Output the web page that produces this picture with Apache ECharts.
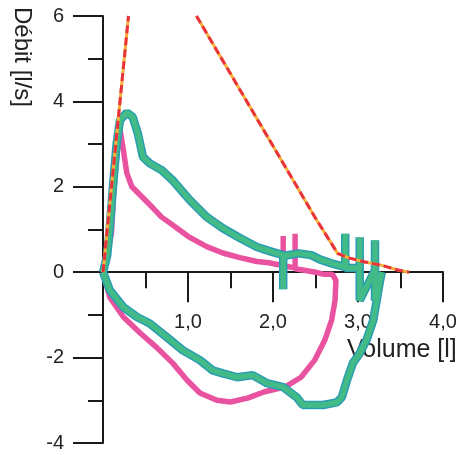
<!DOCTYPE html>
<html>
<head>
<meta charset="utf-8">
<script src="https://cdn.jsdelivr.net/npm/echarts@6/dist/echarts.min.js"></script>
<style>
  html, body { margin: 0; padding: 0; background: #fff; }
  #chart { width: 463px; height: 455px; }
</style>
</head>
<body>
<div id="chart"></div>
<script>
// courbe débit-volume, valeurs
const pinkVol = [0, 0.05, 0.1, 0.12, 0.15, 0.18, 0.2, 0.24, 0.28, 0.34, 0.46, 0.58, 0.69, 0.81, 1.0, 1.22, 1.41, 1.61, 1.81, 1.95, 2.05, 2.12, 2.12, 2.12, 2.2, 2.26, 2.26, 2.26, 2.35, 2.5, 2.6, 2.7, 2.74, 2.73, 2.69, 2.61, 2.49, 2.33, 2.14, 1.9, 1.7, 1.5, 1.34, 1.14, 0.99, 0.82, 0.63, 0.44, 0.24, 0.08, 0]
const pinkFlow = [0, 0.4, 0.92, 1.69, 2.46, 3.1, 3.35, 2.86, 2.32, 2.0, 1.76, 1.52, 1.29, 1.12, 0.84, 0.6, 0.45, 0.34, 0.25, 0.22, 0.18, 0.18, 0.85, 0.15, 0.12, 0.1, 0.9, 0.08, 0.05, 0, -0.05, -0.05, -0.19, -0.66, -1.12, -1.59, -2.06, -2.46, -2.69, -2.8, -2.95, -3.04, -3.0, -2.83, -2.53, -2.13, -1.76, -1.43, -1.05, -0.59, 0]

const greenVol = [0, 0.05, 0.08, 0.12, 0.16, 0.2, 0.28, 0.35, 0.41, 0.47, 0.55, 0.69, 0.82, 1.02, 1.22, 1.41, 1.61, 1.81, 1.95, 2.12, 2.12, 2.12, 2.3, 2.45, 2.55, 2.7, 2.85, 2.85, 2.85, 3.02, 3.02, 3.02, 3.2, 3.2, 3.2, 3.28, 3.26, 3.22, 3.18, 3.1, 3.02, 2.94, 2.87, 2.81, 2.75, 2.59, 2.35, 2.28, 2.12, 1.93, 1.76, 1.58, 1.41, 1.29, 1.14, 0.94, 0.75, 0.55, 0.4, 0.24, 0.08, 0.02, 0]
const greenFlow = [0, 0.4, 1.05, 2.08, 3.0, 3.56, 3.74, 3.63, 3.25, 2.7, 2.55, 2.39, 2.15, 1.69, 1.29, 1.03, 0.8, 0.59, 0.5, 0.4, -0.4, 0.38, 0.44, 0.4, 0.3, 0.2, 0.12, 0.9, 0.1, 0.1, 0.82, -0.66, 0.05, 0.75, -0.66, 0, -0.19, -0.66, -1.12, -1.59, -1.9, -2.13, -2.53, -2.93, -3.05, -3.11, -3.11, -2.93, -2.69, -2.6, -2.41, -2.46, -2.37, -2.3, -2.06, -1.83, -1.52, -1.2, -1.05, -0.82, -0.42, -0.1, 0]

// courbe théorique (deux segments)
const predVolA = [0, 0.3]
const predFlowA = [0, 6]
const predVolB = [1.1, 2.49, 2.76, 2.9, 3.08, 3.28, 3.47, 3.6]
const predFlowB = [6, 1.3, 0.44, 0.33, 0.24, 0.16, 0.05, 0]

const xTicks = [1, 2, 3, 4]
const yTicks = [-4, -2, 0, 2, 4, 6]

const zip = (a, b) => a.map((v, i) => [v, b[i]])

const myChart = echarts.init(document.getElementById('chart'))

const font = 'Liberation Sans, Arial, sans-serif'
const axisColor = '#1a1a1a'

// grille : haut 16, bas 443 -> zéro à 16 + 6/10 * 427
const gridTop = 16
const gridBottom = 12
const plotH = 455 - gridTop - gridBottom
const zeroOffset = -(plotH * 4 / 10)

const option = {
  backgroundColor: '#fff',
  animation: false,
  grid: { left: 103, right: 20, top: gridTop, bottom: gridBottom, containLabel: false, outerBoundsMode: 'none' },
  xAxis: {
    type: 'value',
    min: 0,
    max: 4,
    interval: 1,
    position: 'bottom',
    offset: zeroOffset,
    axisLine: { onZero: false, lineStyle: { color: axisColor, width: 2 } },
    axisTick: { show: true, length: 30, lineStyle: { color: axisColor, width: 2 } },
    minorTick: { show: true, splitNumber: 2, length: 16, lineStyle: { color: axisColor, width: 2 } },
    splitLine: { show: false },
    axisLabel: {
      margin: 40,
      fontSize: 20,
      fontFamily: font,
      color: '#222',
      formatter: v => xTicks.includes(v) ? v.toFixed(1).replace('.', ',') : '',
    },
  },
  yAxis: {
    type: 'value',
    min: -4,
    max: 6,
    interval: 2,
    axisLine: { lineStyle: { color: axisColor, width: 2 } },
    axisTick: { show: true, length: 30, lineStyle: { color: axisColor, width: 2 } },
    minorTick: { show: true, splitNumber: 2, length: 15, lineStyle: { color: axisColor, width: 2 } },
    splitLine: { show: false },
    axisLabel: {
      margin: 39,
      fontSize: 20,
      fontFamily: font,
      color: '#222',
      formatter: v => yTicks.includes(v) ? String(v) : '',
    },
  },
  graphic: [
    {
      type: 'text',
      x: 22,
      y: 7,
      rotation: -Math.PI / 2,
      style: { text: 'Débit [l/s]', fontSize: 24, fontFamily: font, fill: '#222', textAlign: 'left', textVerticalAlign: 'middle' },
    },
    {
      type: 'text',
      left: 347,
      top: 338,
      style: { text: 'Volume [l]', fontSize: 25, fontFamily: font, fill: '#222' },
    },
  ],
  series: [
    {
      name: 'rose',
      type: 'line',
      data: zip(pinkVol, pinkFlow),
      symbol: 'none',
      lineStyle: { color: '#e8529f', width: 5.5 },
      z: 2,
    },
    {
      name: 'vert-bord',
      type: 'line',
      data: zip(greenVol, greenFlow),
      symbol: 'none',
      lineStyle: { color: '#2a9db2', width: 8.5 },
      z: 3,
    },
    {
      name: 'vert',
      type: 'line',
      data: zip(greenVol, greenFlow),
      symbol: 'none',
      lineStyle: { color: '#43bb87', width: 5.5 },
      z: 4,
    },
    {
      name: 'theo-a-fond',
      type: 'line',
      data: zip(predVolA, predFlowA),
      symbol: 'none',
      lineStyle: { color: '#f5b13a', width: 3 },
      z: 5,
    },
    {
      name: 'theo-a',
      type: 'line',
      data: zip(predVolA, predFlowA),
      symbol: 'none',
      lineStyle: { color: '#e8323e', width: 3, type: [8, 4] },
      z: 6,
    },
    {
      name: 'theo-b-fond',
      type: 'line',
      data: zip(predVolB, predFlowB),
      symbol: 'none',
      lineStyle: { color: '#f5b13a', width: 3 },
      z: 5,
    },
    {
      name: 'theo-b',
      type: 'line',
      data: zip(predVolB, predFlowB),
      symbol: 'none',
      lineStyle: { color: '#e8323e', width: 3, type: [8, 4] },
      z: 6,
    },
  ],
}

myChart.setOption(option)
</script>
</body>
</html>
